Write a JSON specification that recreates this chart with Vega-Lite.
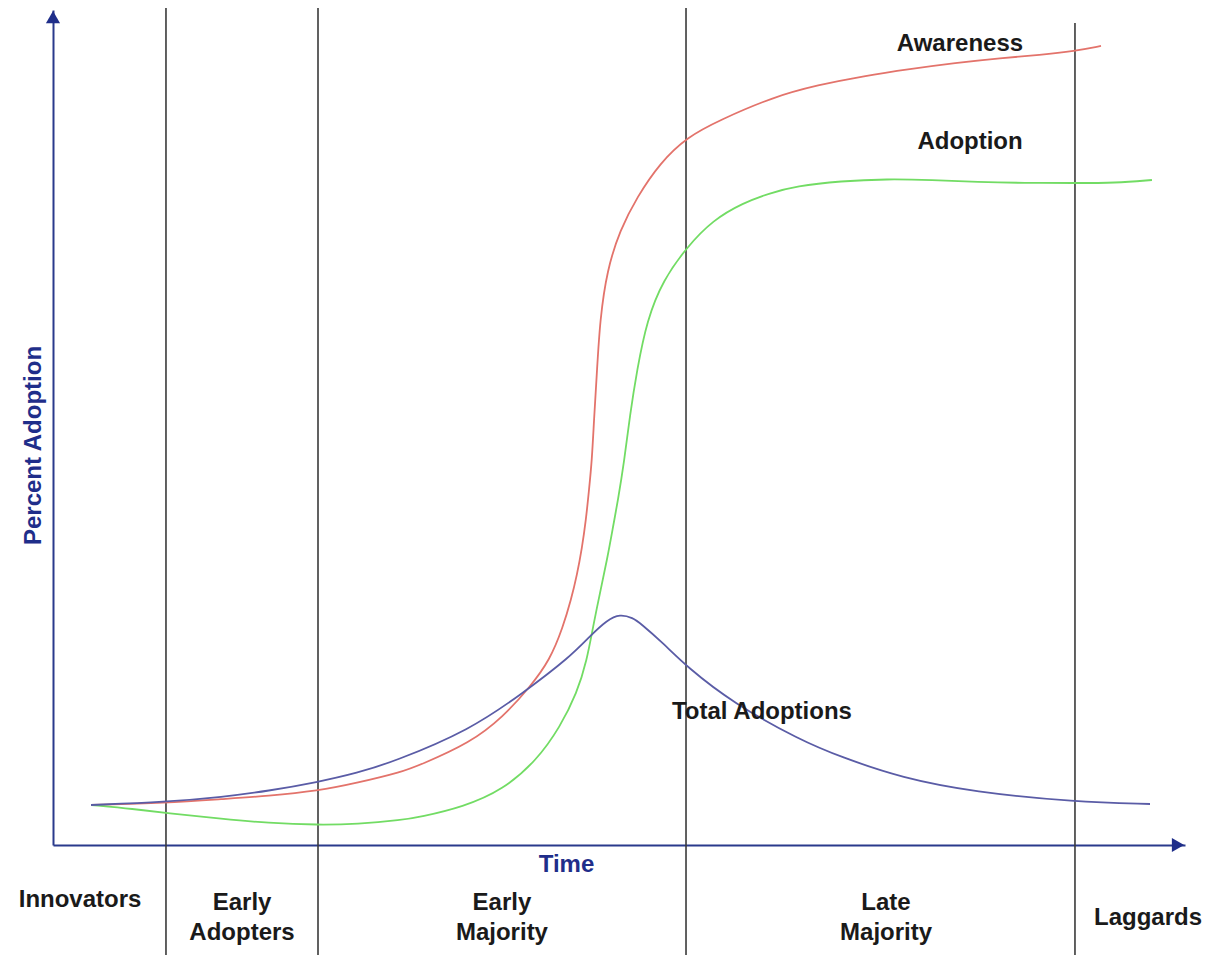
{
  "$schema": "https://vega.github.io/schema/vega-lite/v6.json",
  "width": 1132,
  "height": 835,
  "autosize": {"type": "none"},
  "padding": {"left": 53, "top": 10, "right": 30, "bottom": 110},
  "background": "white",
  "config": {"view": {"stroke": null}},
  "datasets": {
    "curves": [
      {"series": "Awareness", "t": 3.36, "p": 4.79},
      {"series": "Awareness", "t": 9.98, "p": 5.03},
      {"series": "Awareness", "t": 15.02, "p": 5.51},
      {"series": "Awareness", "t": 18.99, "p": 5.87},
      {"series": "Awareness", "t": 23.41, "p": 6.47},
      {"series": "Awareness", "t": 26.86, "p": 7.43},
      {"series": "Awareness", "t": 30.83, "p": 8.74},
      {"series": "Awareness", "t": 32.42, "p": 9.58},
      {"series": "Awareness", "t": 36.84, "p": 12.22},
      {"series": "Awareness", "t": 39.75, "p": 15.33},
      {"series": "Awareness", "t": 42.14, "p": 18.92},
      {"series": "Awareness", "t": 43.9, "p": 22.16},
      {"series": "Awareness", "t": 45.05, "p": 26.11},
      {"series": "Awareness", "t": 45.76, "p": 29.34},
      {"series": "Awareness", "t": 46.29, "p": 32.34},
      {"series": "Awareness", "t": 46.73, "p": 35.57},
      {"series": "Awareness", "t": 47.08, "p": 38.92},
      {"series": "Awareness", "t": 47.35, "p": 42.51},
      {"series": "Awareness", "t": 47.61, "p": 46.11},
      {"series": "Awareness", "t": 47.79, "p": 50.9},
      {"series": "Awareness", "t": 48.06, "p": 56.89},
      {"series": "Awareness", "t": 48.32, "p": 62.87},
      {"series": "Awareness", "t": 48.94, "p": 68.86},
      {"series": "Awareness", "t": 50.09, "p": 73.65},
      {"series": "Awareness", "t": 51.59, "p": 77.6},
      {"series": "Awareness", "t": 53.62, "p": 81.68},
      {"series": "Awareness", "t": 56.01, "p": 84.79},
      {"series": "Awareness", "t": 58.92, "p": 86.83},
      {"series": "Awareness", "t": 63.6, "p": 89.58},
      {"series": "Awareness", "t": 67.58, "p": 91.02},
      {"series": "Awareness", "t": 71.64, "p": 92.1},
      {"series": "Awareness", "t": 75.71, "p": 92.93},
      {"series": "Awareness", "t": 79.68, "p": 93.65},
      {"series": "Awareness", "t": 83.75, "p": 94.25},
      {"series": "Awareness", "t": 87.19, "p": 94.61},
      {"series": "Awareness", "t": 90.28, "p": 95.09},
      {"series": "Awareness", "t": 92.58, "p": 95.69},
      {"series": "Adoption", "t": 3.36, "p": 4.79},
      {"series": "Adoption", "t": 7.16, "p": 4.31},
      {"series": "Adoption", "t": 9.98, "p": 3.83},
      {"series": "Adoption", "t": 15.02, "p": 3.11},
      {"series": "Adoption", "t": 18.99, "p": 2.63},
      {"series": "Adoption", "t": 23.41, "p": 2.4},
      {"series": "Adoption", "t": 26.86, "p": 2.51},
      {"series": "Adoption", "t": 30.83, "p": 2.99},
      {"series": "Adoption", "t": 32.42, "p": 3.35},
      {"series": "Adoption", "t": 36.22, "p": 4.55},
      {"series": "Adoption", "t": 39.75, "p": 6.59},
      {"series": "Adoption", "t": 42.76, "p": 10.18},
      {"series": "Adoption", "t": 44.79, "p": 14.13},
      {"series": "Adoption", "t": 46.29, "p": 18.2},
      {"series": "Adoption", "t": 47.17, "p": 22.16},
      {"series": "Adoption", "t": 47.7, "p": 26.11},
      {"series": "Adoption", "t": 48.32, "p": 30.18},
      {"series": "Adoption", "t": 48.94, "p": 34.13},
      {"series": "Adoption", "t": 49.47, "p": 38.08},
      {"series": "Adoption", "t": 49.91, "p": 41.32},
      {"series": "Adoption", "t": 50.44, "p": 45.75},
      {"series": "Adoption", "t": 50.97, "p": 51.5},
      {"series": "Adoption", "t": 51.59, "p": 56.89},
      {"series": "Adoption", "t": 52.47, "p": 62.87},
      {"series": "Adoption", "t": 53.89, "p": 67.66},
      {"series": "Adoption", "t": 56.01, "p": 71.62},
      {"series": "Adoption", "t": 58.3, "p": 74.85},
      {"series": "Adoption", "t": 60.95, "p": 76.89},
      {"series": "Adoption", "t": 63.34, "p": 78.08},
      {"series": "Adoption", "t": 65.64, "p": 78.92},
      {"series": "Adoption", "t": 69.61, "p": 79.52},
      {"series": "Adoption", "t": 73.67, "p": 79.76},
      {"series": "Adoption", "t": 77.65, "p": 79.64},
      {"series": "Adoption", "t": 81.71, "p": 79.4},
      {"series": "Adoption", "t": 85.78, "p": 79.28},
      {"series": "Adoption", "t": 90.28, "p": 79.28},
      {"series": "Adoption", "t": 93.82, "p": 79.28},
      {"series": "Adoption", "t": 97.08, "p": 79.64},
      {"series": "Total Adoptions", "t": 3.36, "p": 4.79},
      {"series": "Total Adoptions", "t": 9.98, "p": 5.15},
      {"series": "Total Adoptions", "t": 15.02, "p": 5.75},
      {"series": "Total Adoptions", "t": 18.99, "p": 6.47},
      {"series": "Total Adoptions", "t": 23.41, "p": 7.54},
      {"series": "Total Adoptions", "t": 26.86, "p": 8.62},
      {"series": "Total Adoptions", "t": 30.04, "p": 9.94},
      {"series": "Total Adoptions", "t": 36.84, "p": 13.77},
      {"series": "Total Adoptions", "t": 41.52, "p": 18.2},
      {"series": "Total Adoptions", "t": 45.67, "p": 22.51},
      {"series": "Total Adoptions", "t": 47.44, "p": 25.03},
      {"series": "Total Adoptions", "t": 48.94, "p": 26.95},
      {"series": "Total Adoptions", "t": 50.09, "p": 27.66},
      {"series": "Total Adoptions", "t": 51.24, "p": 27.19},
      {"series": "Total Adoptions", "t": 51.86, "p": 26.59},
      {"series": "Total Adoptions", "t": 53.89, "p": 24.19},
      {"series": "Total Adoptions", "t": 56.01, "p": 21.32},
      {"series": "Total Adoptions", "t": 60.07, "p": 17.01},
      {"series": "Total Adoptions", "t": 65.99, "p": 12.57},
      {"series": "Total Adoptions", "t": 69.61, "p": 10.54},
      {"series": "Total Adoptions", "t": 75.0, "p": 8.02},
      {"series": "Total Adoptions", "t": 81.36, "p": 6.35},
      {"series": "Total Adoptions", "t": 90.28, "p": 5.15},
      {"series": "Total Adoptions", "t": 96.91, "p": 4.91}
    ],
    "dividers": [
      {"t": 9.98, "p": 100.24, "p2": -13.17},
      {"t": 23.41, "p": 100.24, "p2": -13.17},
      {"t": 55.92, "p": 100.24, "p2": -13.17},
      {"t": 90.28, "p": 98.44, "p2": -13.17}
    ],
    "phases": [
      {"label": "Innovators", "t": 2.39, "p": -6.59},
      {"label": "Early\nAdopters", "t": 16.7, "p": -6.95},
      {"label": "Early\nMajority", "t": 39.66, "p": -6.95},
      {"label": "Late\nMajority", "t": 73.59, "p": -6.95},
      {"label": "Laggards", "t": 96.73, "p": -8.74}
    ],
    "curveLabels": [
      {"label": "Awareness", "t": 80.12, "p": 95.93},
      {"label": "Adoption", "t": 81.01, "p": 84.19},
      {"label": "Total Adoptions", "t": 62.63, "p": 15.93}
    ],
    "arrows": [
      {"t": 0, "p": 99.16, "shape": "triangle-up"},
      {"t": 99.38, "p": 0, "shape": "triangle-right"}
    ]
  },
  "encoding": {
    "x": {
      "field": "t",
      "type": "quantitative",
      "scale": {"domain": [0, 100], "nice": false, "zero": false},
      "axis": {
        "title": "Time",
        "domainColor": "#2a3a8c",
        "domainWidth": 2,
        "ticks": false,
        "labels": false,
        "grid": false,
        "titleColor": "#1f2e8a",
        "titleFont": "Liberation Sans",
        "titleFontSize": 24,
        "titleFontWeight": "bold",
        "titleX": 513,
        "titleY": 19,
        "titleAlign": "center",
        "titleBaseline": "middle"
      }
    },
    "y": {
      "field": "p",
      "type": "quantitative",
      "scale": {"domain": [0, 100], "nice": false, "zero": false},
      "axis": {
        "title": "Percent Adoption",
        "domainColor": "#2a3a8c",
        "domainWidth": 2,
        "ticks": false,
        "labels": false,
        "grid": false,
        "titleColor": "#1f2e8a",
        "titleFont": "Liberation Sans",
        "titleFontSize": 24,
        "titleFontWeight": "bold",
        "titleX": -20,
        "titleY": 435,
        "titleAngle": -90,
        "titleAlign": "center",
        "titleBaseline": "middle"
      }
    }
  },
  "layer": [
    {
      "data": {"name": "dividers"},
      "mark": {"type": "rule", "color": "#3a3a3a", "strokeWidth": 1.6},
      "encoding": {"y2": {"field": "p2"}}
    },
    {
      "data": {"name": "curves"},
      "mark": {"type": "line", "interpolate": "basis", "strokeWidth": 1.8},
      "encoding": {
        "color": {
          "field": "series",
          "type": "nominal",
          "scale": {
            "domain": ["Awareness", "Adoption", "Total Adoptions"],
            "range": ["#e3736b", "#72dc64", "#5a5ca6"]
          },
          "legend": null
        }
      }
    },
    {
      "data": {"name": "arrows"},
      "mark": {"type": "point", "filled": true, "size": 200, "color": "#1f2e8a", "opacity": 1},
      "encoding": {"shape": {"field": "shape", "type": "nominal", "scale": null}}
    },
    {
      "data": {"name": "phases"},
      "mark": {
        "type": "text",
        "font": "Liberation Sans",
        "fontSize": 24,
        "fontWeight": "bold",
        "color": "#1a1a1a",
        "align": "center",
        "baseline": "middle",
        "lineBreak": "\n",
        "lineHeight": 30
      },
      "encoding": {"text": {"field": "label"}}
    },
    {
      "data": {"name": "curveLabels"},
      "mark": {
        "type": "text",
        "font": "Liberation Sans",
        "fontSize": 24,
        "fontWeight": "bold",
        "color": "#1a1a1a",
        "align": "center",
        "baseline": "middle"
      },
      "encoding": {"text": {"field": "label"}}
    }
  ]
}
